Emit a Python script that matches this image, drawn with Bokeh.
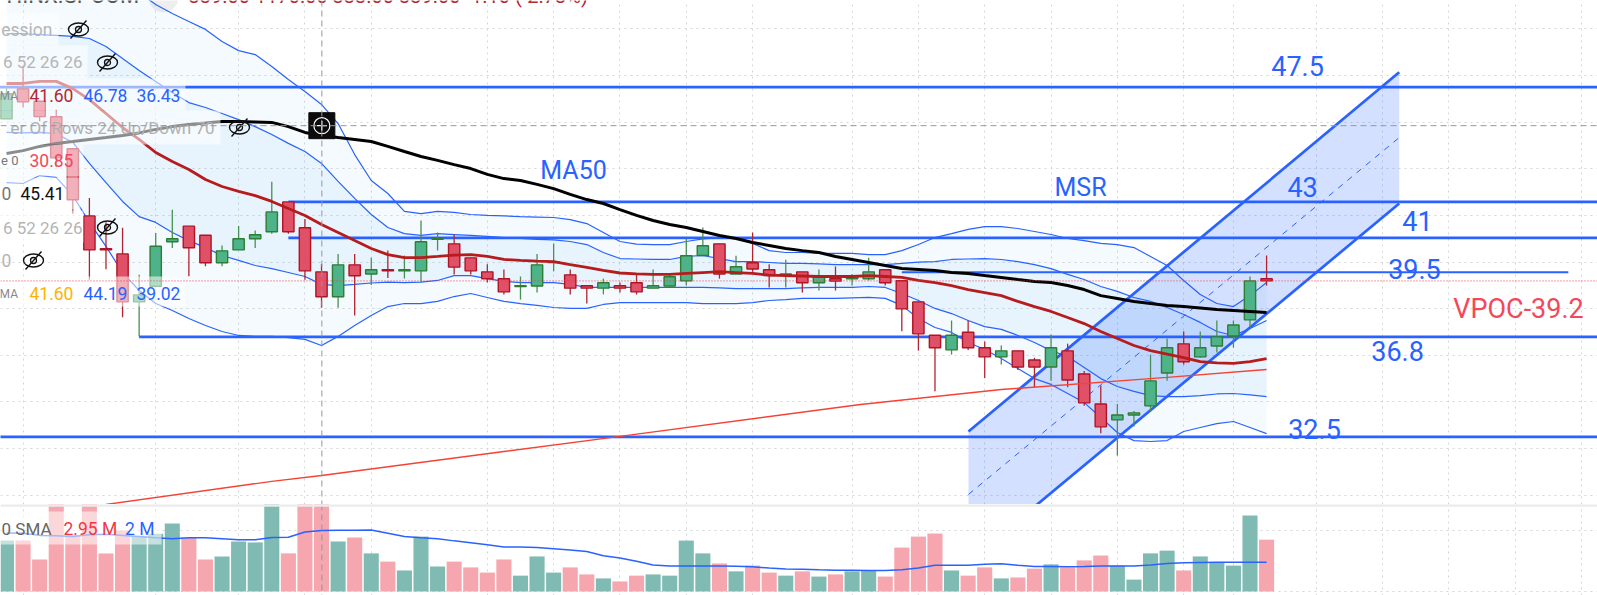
from bokeh.plotting import figure
from bokeh.models import Range1d, FixedTicker, Span
from bokeh.layouts import column
from bokeh.core.properties import value
from bokeh.embed import file_html
from bokeh.resources import INLINE
import numpy as np

opens = [46.14,47.43,46.90,46.23,44.86,41.98,40.57,40.35,38.29,38.96,40.87,41.54,41.15,39.97,40.52,41.00,41.30,42.58,41.47,39.58,
         38.51,39.88,39.49,39.67,39.62,39.62,40.98,40.78,40.18,39.58,39.28,38.95,38.97,39.98,39.45,38.98,38.88,38.98,39.11,38.88,
         38.97,39.19,40.28,40.78,39.49,39.97,39.67,39.44,39.58,39.11,39.28,39.28,39.28,39.67,39.20,38.29,36.86,36.23,36.99,36.32,
         35.93,36.19,35.80,35.50,36.19,35.20,33.91,33.23,33.44,33.83,35.24,36.49,35.93,36.40,36.83,37.52,39.28]
highs = [47.50,48.43,46.93,46.53,44.86,42.75,41.71,41.47,39.45,41.25,42.24,41.54,41.15,40.71,41.55,41.35,43.44,42.58,41.85,39.92,
         40.35,40.35,40.18,40.49,40.28,41.78,41.27,41.18,40.18,39.90,39.68,39.38,40.35,40.80,39.68,38.98,39.29,39.12,39.49,39.68,
         39.49,41.00,41.48,40.78,40.27,41.27,39.90,40.10,39.58,39.68,39.81,39.49,40.18,39.68,39.20,38.29,36.86,37.49,37.49,36.59,
         36.42,36.19,35.89,36.89,36.50,35.33,34.70,33.91,33.61,36.03,36.72,37.02,37.02,37.49,37.49,39.38,40.28]
lows = [46.14,46.64,46.04,44.07,42.07,39.24,39.69,37.63,36.81,38.96,40.60,39.39,39.82,39.82,40.52,40.60,41.21,41.21,39.24,38.04,
        38.04,37.71,39.02,39.31,39.29,39.14,40.50,39.47,39.47,39.12,38.61,38.39,38.69,39.60,38.61,38.22,38.61,38.69,38.61,38.87,
        38.95,38.99,40.28,39.29,39.49,39.58,38.91,38.91,38.69,38.78,38.78,38.99,39.21,38.99,37.03,36.20,34.46,36.03,36.23,35.02,
        35.60,35.37,34.63,34.91,34.63,33.84,32.66,31.70,32.94,33.57,34.91,35.60,35.89,36.12,36.33,37.20,38.99]
closes = [47.22,46.87,46.24,44.47,42.67,40.52,40.52,38.29,38.59,40.68,41.00,40.61,39.97,40.48,41.00,41.17,42.15,41.30,39.62,38.51,
          39.88,39.41,39.67,39.62,39.67,40.87,41.01,39.78,39.62,39.28,38.72,38.99,39.88,40.01,38.88,38.88,39.11,38.88,38.72,38.98,
          39.37,40.27,40.70,39.49,39.80,39.70,39.42,39.49,39.11,39.37,39.18,39.39,39.58,39.11,37.99,36.92,36.32,36.86,36.32,35.93,
          36.19,35.50,35.50,36.32,34.94,33.96,32.93,33.44,33.53,34.90,36.32,35.72,36.32,36.79,37.30,39.19,39.19]
rising = [1,0,0,0,0,0,0,0,1,1,1,0,0,1,1,1,1,0,0,0,
          1,0,1,0,1,1,1,0,0,0,0,1,1,1,0,0,1,0,0,1,
          1,1,1,0,1,0,0,1,0,1,0,1,1,0,0,0,0,1,0,0,
          1,0,0,1,0,0,0,1,1,1,1,0,1,1,1,1,0]

ma50 = [44.66,44.78,44.96,45.09,45.17,45.26,45.34,45.43,45.54,45.69,45.81,45.90,45.96,46.03,46.03,46.01,45.99,45.81,45.56,45.43,
        45.34,45.26,45.17,44.96,44.74,44.53,44.36,44.18,44.01,43.76,43.58,43.50,43.33,43.15,42.90,42.68,42.51,42.25,42.00,41.78,
        41.61,41.48,41.31,41.14,41.01,40.84,40.71,40.58,40.49,40.41,40.24,40.11,39.98,39.85,39.72,39.68,39.64,39.55,39.51,39.42,
        39.34,39.25,39.17,39.12,38.99,38.82,38.56,38.44,38.31,38.22,38.14,38.09,38.03,37.96,37.92,37.88,37.84]
ma20 = [47.66,47.66,47.75,47.75,47.44,46.97,46.37,45.77,45.26,44.70,44.31,43.97,43.54,43.24,43.03,42.85,42.60,42.30,42.00,41.61,
        41.27,40.92,40.58,40.32,40.19,40.19,40.24,40.30,40.32,40.24,40.11,40.07,40.04,40.02,39.89,39.77,39.64,39.53,39.49,39.47,
        39.47,39.51,39.55,39.59,39.55,39.51,39.44,39.42,39.40,39.38,39.38,39.38,39.42,39.38,39.34,39.21,39.12,38.99,38.82,38.69,
        38.56,38.31,38.09,37.88,37.62,37.36,37.02,36.72,36.42,36.20,36.05,35.90,35.73,35.67,35.65,35.73,35.86]
upper_outer = [53.45,53.45,53.45,53.37,53.19,52.94,52.51,51.99,51.56,51.05,50.66,50.32,49.98,49.46,49.07,48.90,48.39,47.83,47.32,46.76,
               45.94,44.61,43.50,42.94,42.17,42.08,42.17,42.13,42.04,42.00,41.98,41.95,41.93,41.91,41.82,41.65,41.27,40.88,40.77,40.75,
               40.75,40.88,40.99,41.05,41.01,40.80,40.49,40.41,40.41,40.37,40.37,40.37,40.32,40.32,40.49,40.75,41.05,41.22,41.40,41.52,
               41.52,41.44,41.31,41.18,41.01,40.92,40.80,40.75,40.62,40.24,39.85,39.21,38.61,38.22,38.09,38.56,39.12]
upper_inner = [49.80,49.80,49.76,49.72,49.68,49.59,49.25,48.73,48.22,47.75,47.27,46.84,46.63,46.37,46.11,45.81,45.47,45.09,44.74,44.23,
               43.46,42.73,42.04,41.48,41.22,41.14,41.22,41.18,41.14,41.10,41.05,41.01,40.97,40.95,40.88,40.75,40.41,40.15,40.13,40.11,
               40.11,40.24,40.28,40.15,40.02,40.02,39.98,39.94,39.94,39.92,39.89,39.89,39.89,39.89,39.94,40.00,40.02,40.11,40.13,40.15,
               40.11,40.02,39.89,39.72,39.47,39.25,38.95,38.74,38.48,38.31,38.05,37.75,37.41,37.02,36.85,37.15,37.49]
lower_inner = [45.56,45.54,45.56,45.51,45.13,44.23,43.41,42.60,41.95,41.70,41.27,40.92,40.62,40.28,40.07,39.85,39.72,39.55,39.38,39.04,
               38.99,39.04,39.10,39.14,39.12,39.14,39.21,39.42,39.42,39.29,39.17,39.12,39.12,39.12,39.04,38.91,38.91,38.91,38.91,38.91,
               38.91,38.91,38.91,38.89,38.86,38.86,38.86,38.86,38.89,38.91,38.91,38.91,38.95,38.91,38.65,38.35,38.01,37.79,37.49,37.23,
               37.11,36.85,36.55,36.20,35.95,35.48,35.00,34.66,34.45,34.27,34.23,34.23,34.27,34.34,34.36,34.30,34.23]
lower_outer = [43.41,43.37,43.71,43.63,42.85,41.70,40.67,39.55,38.78,38.22,37.92,37.58,37.28,37.02,36.85,36.81,36.81,36.76,36.68,36.42,
               36.81,37.28,37.71,38.09,38.22,38.22,38.31,38.52,38.65,38.48,38.31,38.22,38.14,38.05,38.01,38.01,38.18,38.26,38.26,38.26,
               38.26,38.26,38.22,38.22,38.22,38.26,38.35,38.39,38.44,38.44,38.44,38.46,38.48,38.44,38.14,37.58,37.19,36.98,36.55,36.25,
               35.86,35.43,35.00,34.75,34.36,33.97,33.33,32.69,32.34,32.30,32.34,32.73,32.90,33.07,33.16,32.90,32.64]
ma200_x = [6,16,19,30,37,51.5,60,70,76]
ma200 = [29.60,30.59,30.84,31.87,32.52,33.89,34.53,35.05,35.39]

volume = [1.67,1.67,1.05,3.0,1.85,3.0,1.25,2.0,1.80,1.89,2.23,1.76,1.05,1.15,1.64,1.61,3.0,1.25,3.0,2.95,
          1.64,1.77,1.25,0.98,0.69,1.80,0.82,0.98,0.79,0.62,1.05,0.52,1.15,0.62,0.79,0.56,0.43,0.33,0.52,0.56,
          0.52,1.67,1.25,0.92,0.66,0.85,0.62,0.52,0.66,0.49,0.56,0.66,0.69,0.49,1.44,1.80,1.90,0.69,0.52,0.79,
          0.43,0.46,0.75,0.89,0.79,1.02,1.18,0.85,0.39,1.25,1.34,0.69,1.15,0.95,0.85,2.49,1.70]
vol_sma = [1.92,1.91,1.84,1.83,1.80,1.86,1.88,1.84,1.80,1.76,1.73,1.76,1.76,1.73,1.70,1.70,1.77,1.78,1.95,2.00,
           2.01,2.01,2.02,1.91,1.80,1.76,1.73,1.66,1.60,1.53,1.46,1.46,1.44,1.40,1.36,1.31,1.17,1.10,0.99,0.87,
           0.84,0.84,0.84,0.84,0.83,0.81,0.77,0.74,0.73,0.71,0.70,0.70,0.69,0.69,0.71,0.77,0.86,0.86,0.86,0.89,
           0.91,0.86,0.82,0.82,0.81,0.82,0.84,0.84,0.84,0.87,0.92,0.94,0.95,0.96,0.96,0.96,0.96]

levels = [47.50,42.58,41.04,36.79,32.50]
level_starts = [-1,17.0,17.0,8.0,-1]
short_level = 39.56
short_level_x = [54,94.2]
vpoc_level = 39.19
cross_x = 19.02
cross_y = 45.85
channel_x = [58.02,84.0]
channel_upper = [32.73,48.14]
channel_mid = [30.03,45.34]
channel_lower = [27.15,42.51]
grid_x = [1,9,14,18,22,29,33,37,41,45,51,55,59,63,67,71,74,79,83,87,91,95]
grid_y = [30,32,34,36,38,40,42,44,46,48,50]
vol_grid_y = [0,2]

draw_labels = ["47.5","MSR","MA50","43","41","39.5","36.8","32.5"]
draw_label_x = [77.87,64.78,34.20,78.17,85.10,84.92,83.90,78.89]
draw_label_y = [48.42,43.20,43.93,43.20,41.78,39.68,36.20,32.85]
draw_label_sizes = ["27px","25px","25px","27px","27px","27px","27px","27px"]
vpoc_label = "VPOC-39.2"

BLUE = "#2962ff"
RED = "#f23645"
FONT = value("Roboto")
PX_X, PX_0 = 16.58, 6.0
PX_Y, P_TOP = 23.31, 51.22
def XP(px): return (np.asarray(px, dtype=float) - PX_0) / PX_X
def YP(py): return P_TOP - np.asarray(py, dtype=float) / PX_Y

idx = np.arange(len(opens))
op, hi, lo, cl = map(np.array, (opens, highs, lows, closes))
up = np.array(rising, dtype=bool)

xr = Range1d(float(XP(0)), float(XP(1597)))
p = figure(width=1597, height=504, output_backend="svg", toolbar_location=None,
           x_range=xr, y_range=Range1d(float(YP(504)), P_TOP), min_border=0)
v = figure(width=1597, height=91, output_backend="svg", toolbar_location=None,
           x_range=xr, y_range=Range1d(-4/30.5, 87/30.5), min_border=0)
for f in (p, v):
    f.xaxis.visible = False
    f.yaxis.visible = False
    f.outline_line_color = None
    f.background_fill_color = "white"
    f.border_fill_color = "white"
    f.xgrid.ticker = FixedTicker(ticks=grid_x)
    f.grid.grid_line_color = "#d6d6d6"
    f.grid.grid_line_dash = "2 4"
    f.grid.grid_line_width = 1
p.ygrid.ticker = FixedTicker(ticks=grid_y)
v.ygrid.ticker = FixedTicker(ticks=vol_grid_y)

# Bollinger fills and lines
p.varea(idx, upper_outer, lower_outer, fill_color="#2196f3", fill_alpha=0.05)
p.varea(idx, upper_inner, lower_inner, fill_color="#2196f3", fill_alpha=0.06)
for s in (upper_outer, upper_inner, lower_inner, lower_outer):
    p.line(idx, s, line_color=BLUE, line_width=1.2)

# channel fill
p.varea(channel_x, channel_lower, channel_upper, fill_color=BLUE, fill_alpha=0.2)

# price levels
p.add_layout(Span(location=vpoc_level, dimension="width", line_color=RED, line_width=1, line_dash="1 2"))
for lv, st in zip(levels, level_starts):
    p.segment(st, lv, float(XP(1600)), lv, line_color=BLUE, line_width=2.7)
p.line(short_level_x, [short_level, short_level], line_color=BLUE, line_width=2)

# channel lines
p.line(channel_x, channel_upper, line_color=BLUE, line_width=2.7)
p.line(channel_x, channel_lower, line_color=BLUE, line_width=2.7)
p.line(channel_x, channel_mid, line_color=BLUE, line_width=1, line_dash="6 6")

# crosshair
p.add_layout(Span(location=cross_x, dimension="height", line_color="#9598a1", line_width=1, line_dash="6 4"))
p.add_layout(Span(location=cross_y, dimension="width", line_color="#9598a1", line_width=1, line_dash="6 4"))
v.add_layout(Span(location=cross_x, dimension="height", line_color="#9598a1", line_width=1, line_dash="6 4"))

# candles
for mask, wick, fill, edge in ((up, "#4a8f55", "#4fb38a", "#2e7d32"), (~up, "#b0242f", "#e05066", "#ad1425")):
    p.segment(idx[mask], hi[mask], idx[mask], lo[mask], line_color=wick, line_width=1.3)
    top = np.maximum(op, cl)[mask]
    bot = np.minimum(op, cl)[mask]
    p.vbar(idx[mask], 0.68, bot, top, fill_color=fill, line_color=edge, line_width=1.4)

# moving averages
p.line(ma200_x, ma200, line_color="#f44336", line_width=1.4)
p.line(idx, ma20, line_color="#b71c1c", line_width=2.8)
p.line(idx, ma50, line_color="#000000", line_width=3)

# drawing labels
for s, lx, ly, fs in zip(draw_labels, draw_label_x, draw_label_y, draw_label_sizes):
    p.text([lx], [ly], text=[s], text_color=BLUE, text_font=FONT, text_font_size=fs,
           text_align="center", text_baseline="middle")
p.text([float(XP(1518))], [float(YP(308))], text=[vpoc_label], text_color="#f4485a", text_font=FONT, text_font_size="27px",
       text_align="center", text_baseline="middle")

# pale legend rows over the chart
box_l = [0,0,0,0,0,0,0,0]
box_r = [58,87,185,220,83,80,83,185]
box_t = [13,45,78,110,144,177,210,276]
box_b = [45,78,110,144,176,209,242,306]
p.quad(XP(box_l), XP(box_r), YP(box_b), YP(box_t), fill_color="white", fill_alpha=0.55, line_color=None)

GREY = "#b5b5b5"
def lab(fig, yconv, px, py, s, color, align="left", size="17.5px"):
    fig.text([float(XP(px))], [float(yconv(py))], text=[s], text_color=color, text_font=FONT, text_font_size=size,
             text_align=align, text_baseline="middle")

lab(p, YP, 52, 29, "ession", GREY, "right")
lab(p, YP, 82, 61, "6 52 26 26", GREY, "right", "17px")
lab(p, YP, 17.5, 95, "MA", "#888888", "right", "12px")
lab(p, YP, 29, 95, "41.60", "#b22833")
lab(p, YP, 83, 95, "46.78", BLUE)
lab(p, YP, 136, 95, "36.43", BLUE)
lab(p, YP, 214, 127, "er Of Rows 24 Up/Down 70", "#b0b0b0", "right", "17px")
lab(p, YP, 18, 160, "e 0", "#777777", "right", "13px")
lab(p, YP, 29, 160, "30.85", "#f4485a")
lab(p, YP, 1, 193, "0", "#777777")
lab(p, YP, 20, 193, "45.41", "#111111")
lab(p, YP, 82, 227, "6 52 26 26", GREY, "right", "17px")
lab(p, YP, 1, 260, "0", GREY)
lab(p, YP, 17.5, 293, "MA", "#888888", "right", "12px")
lab(p, YP, 29, 293, "41.60", "#ffb300")
lab(p, YP, 83, 293, "44.19", BLUE)
lab(p, YP, 136, 293, "39.02", BLUE)

# hidden-eye icons
eye_px = [78,107,239,107,33]
eye_py = [29,62,127,227,260]
p.ellipse(XP(eye_px), YP(eye_py), width=20, height=13, width_units="screen", height_units="screen",
          fill_color=None, line_color="#111111", line_width=1.4)
p.scatter(XP(eye_px), YP(eye_py), size=6, marker="circle", fill_color=None, line_color="#111111", line_width=1.3)
p.segment(XP(np.array(eye_px)-8), YP(np.array(eye_py)+9), XP(np.array(eye_px)+8), YP(np.array(eye_py)-9),
          line_color="#111111", line_width=1.4)

# crosshair plus button
p.scatter([cross_x], [cross_y], size=26, marker="square", fill_color="#0c0c0c", line_color="#0c0c0c")
p.scatter([cross_x], [cross_y], size=16, marker="circle", fill_color=None, line_color="white", line_width=1.2)
p.scatter([cross_x], [cross_y], size=10, marker="cross", line_color="white", line_width=1.2)

# header, almost entirely above the top edge
p.scatter([float(XP(163))], [float(YP(-3))], size=30, marker="circle", fill_color="#eeeeee", line_color=None, level="underlay")
lab(p, YP, 6, -5, "HINX.SPCOM", "#555555", "left", "22px")
lab(p, YP, 188, -5, "339.00 1170.00 333.00 339.00 -1.10 (-2.73%)", "#b22833", "left", "20px")

# volume pane
vcol = np.where(up, "#80bbb3", "#f5a6ae")
v.vbar(idx, 0.91, 0, volume, fill_color=vcol.tolist(), line_color=None)
v.line(idx, vol_sma, line_color=BLUE, line_width=1.5)
v.add_layout(Span(location=2.83, dimension="width", line_color="#ebebeb", line_width=3))
def YV(py): return (591 - np.asarray(py, dtype=float)) / 30.5
v.quad(float(XP(-2)), float(XP(161)), float(YV(544)), float(YV(511)), fill_color="white", fill_alpha=0.55, line_color=None)
lab(v, YV, 51, 528, "0 SMA", "#666666", "right", "17px")
lab(v, YV, 63, 528, "2.95 M", RED)
lab(v, YV, 124.5, 528, "2 M", BLUE)

page = column(p, v, spacing=0)
open("out.html", "w").write(file_html(page, INLINE))
